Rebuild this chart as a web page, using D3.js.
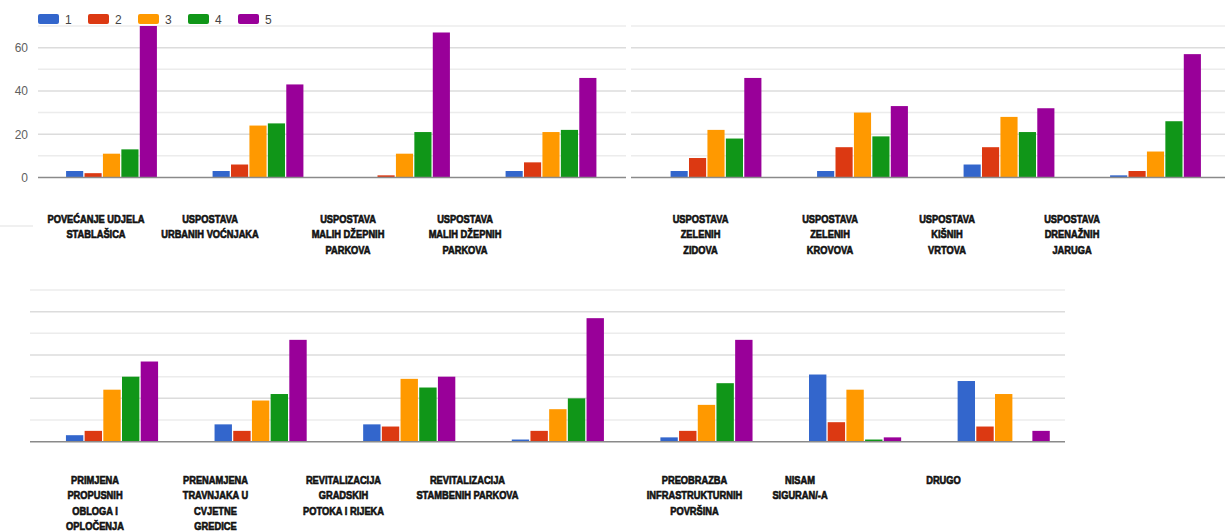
<!DOCTYPE html>
<html>
<head>
<meta charset="utf-8">
<script src="https://cdn.jsdelivr.net/npm/d3@7"></script>
<style>
  html, body { margin: 0; padding: 0; background: #ffffff; }
  svg { display: block; }
  .cat-label { font-family: "Liberation Sans", Arial, sans-serif; font-weight: bold; font-size: 11.2px; fill: #111; stroke: #111; stroke-width: 0.65px; }
  .tick-label { font-family: Arial, "Liberation Sans", sans-serif; font-size: 12px; fill: #5f5f5f; }
  .legend-label { font-family: Arial, "Liberation Sans", sans-serif; font-size: 12px; fill: #444; }
</style>
</head>
<body>
<svg id="chart" width="1225" height="532"></svg>
<script>
// ---- data ----
const seriesNames = ["1", "2", "3", "4", "5"];
const seriesColors = ["#3366cc", "#dc3912", "#ff9900", "#109618", "#990099"];

const categoriesTopLeft = [
  "POVEĆANJE UDJELA\nSTABLAŠICA",
  "USPOSTAVA\nURBANIH VOĆNJAKA",
  "USPOSTAVA\nMALIH DŽEPNIH\nPARKOVA",
  "USPOSTAVA\nMALIH DŽEPNIH\nPARKOVA"
];
const categoriesTopRight = [
  "USPOSTAVA\nZELENIH\nZIDOVA",
  "USPOSTAVA\nZELENIH\nKROVOVA",
  "USPOSTAVA\nKIŠNIH\nVRTOVA",
  "USPOSTAVA\nDRENAŽNIH\nJARUGA"
];
const categoriesBottom = [
  "PRIMJENA\nPROPUSNIH\nOBLOGA I\nOPLOČENJA",
  "PRENAMJENA\nTRAVNJAKA U\nCVJETNE\nGREDICE",
  "REVITALIZACIJA\nGRADSKIH\nPOTOKA I RIJEKA",
  "REVITALIZACIJA\nSTAMBENIH PARKOVA",
  "PREOBRAZBA\nINFRASTRUKTURNIH\nPOVRŠINA",
  "NISAM\nSIGURAN/-A",
  "DRUGO"
];

// one value per category, in the order top-left, top-right, bottom
const series1 = [3, 3, 0, 3,   3, 3, 6, 1,    3, 8, 8, 1, 2, 31, 28];
const series2 = [2, 6, 1, 7,   9, 14, 14, 3,  5, 5, 7, 5, 5, 9, 7];
const series3 = [11, 24, 11, 21, 22, 30, 28, 12, 24, 19, 29, 15, 17, 24, 22];
const series4 = [13, 25, 21, 22, 18, 19, 21, 26, 30, 22, 25, 20, 27, 1, 0];
const series5 = [70, 43, 67, 46, 46, 33, 32, 57, 37, 47, 30, 57, 47, 2, 5];

const yTicks = [0, 20, 40, 60];
const yMax = 70;

// ---- layout ----
const allSeries = [series1, series2, series3, series4, series5];
const allCategories = categoriesTopLeft.concat(categoriesTopRight, categoriesBottom);
const rows = allCategories.map((c, i) => ({
  name: c,
  values: allSeries.map((s, k) => ({ key: seriesNames[k], value: s[i] }))
}));

const panels = [
  { rows: rows.slice(0, 4),  band: [38.25, 624.25],  grid: [38, 626],  y: [177.5, 26],
    labelX: [96, 210, 348, 465], labelY: 223, axis: true },
  { rows: rows.slice(4, 8),  band: [642.75, 1228.75], grid: [631, 1225], y: [177.5, 26],
    labelX: [700.5, 830, 947, 1072], labelY: 223, axis: false },
  { rows: rows.slice(8, 15), band: [37.7, 1078],     grid: [30, 1065],  y: [441.7, 290],
    labelX: [95, 215.5, 343.5, 467.5, 694.5, 800, 943.5], labelY: 484, axis: false }
];

const svg = d3.select("#chart");

// Legend
const legend = svg.append("g").attr("transform", "translate(38,14)");
const legendItem = legend.selectAll("g").data(seriesNames).join("g")
  .attr("transform", (d, i) => `translate(${i * 50},0)`);
legendItem.append("rect")
  .attr("width", 21).attr("height", 10).attr("rx", 2)
  .attr("fill", (d, i) => seriesColors[i]);
legendItem.append("text").attr("class", "legend-label")
  .attr("x", 27).attr("y", 9.5).text(d => d);

panels.forEach(p => {
  const g = svg.append("g");
  const y = d3.scaleLinear().domain([0, yMax]).range(p.y);
  const x0 = d3.scaleBand().domain(p.rows.map((r, i) => i))
    .range(p.band).paddingInner(0.38).paddingOuter(0.19);
  const x1 = d3.scaleBand().domain(seriesNames)
    .range([0, x0.bandwidth()]).paddingInner(0.07);
  const color = d3.scaleOrdinal().domain(seriesNames).range(seriesColors);

  // gridlines (major every 20, minor in between)
  const gridVals = d3.range(10, yMax + 1, 10);
  g.append("g").selectAll("line").data(gridVals).join("line")
    .attr("x1", p.grid[0]).attr("x2", p.grid[1])
    .attr("y1", d => y(d)).attr("y2", d => y(d))
    .attr("stroke", d => d % 20 === 0 ? "#dcdcdc" : "#ececec")
    .attr("stroke-width", 1.5);

  // y axis tick labels
  if (p.axis) {
    const axis = d3.axisLeft(y).tickValues(yTicks).tickSize(0).tickPadding(0);
    const ag = g.append("g").attr("transform", `translate(${p.grid[0] - 10},0)`).call(axis);
    ag.select(".domain").remove();
    ag.selectAll("text").attr("class", "tick-label").attr("fill", null)
      .style("font-family", null).style("font-size", null);
  }

  // bars
  const groups = g.append("g").selectAll("g").data(p.rows).join("g")
    .attr("transform", (d, i) => `translate(${x0(i)},0)`);
  groups.selectAll("rect").data(d => d.values).join("rect")
    .attr("x", d => x1(d.key))
    .attr("width", x1.bandwidth())
    .attr("y", d => y(d.value))
    .attr("height", d => y(0) - y(d.value))
    .attr("fill", d => color(d.key));

  // baseline
  g.append("line")
    .attr("x1", p.grid[0]).attr("x2", p.grid[1])
    .attr("y1", y(0)).attr("y2", y(0))
    .attr("stroke", "#8a8a8a").attr("stroke-width", 1.6);

  // category labels, set in a condensed heavy face
  const lab = g.append("g").selectAll("text").data(p.rows).join("text")
    .attr("class", "cat-label")
    .attr("text-anchor", "middle")
    .attr("transform", (d, i) => `translate(${p.labelX[i]},${p.labelY}) scale(0.83,1)`);
  lab.selectAll("tspan").data(d => d.name.split("\n")).join("tspan")
    .attr("x", 0)
    .attr("dy", (d, i) => i === 0 ? 0 : 15.5)
    .text(d => d);
});

// short rule on the left edge between the panels
svg.append("line").attr("x1", 0).attr("x2", 33).attr("y1", 226).attr("y2", 226)
  .attr("stroke", "#e2e2e2").attr("stroke-width", 1.2);
</script>
</body>
</html>
